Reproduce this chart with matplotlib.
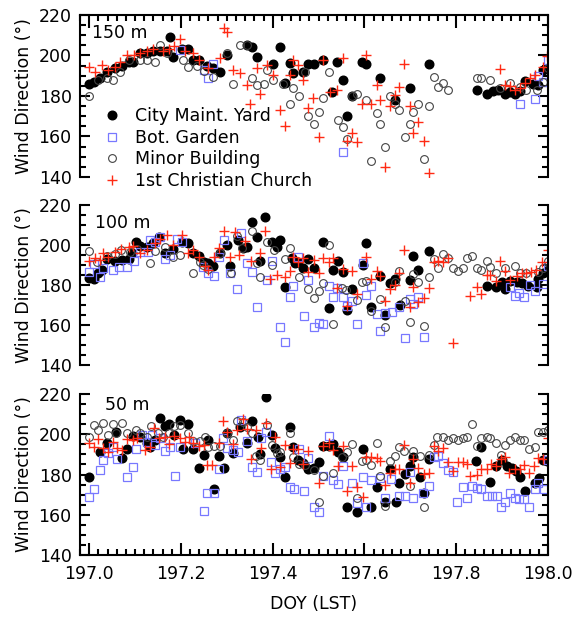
import numpy as np
import matplotlib.pyplot as plt
from matplotlib.ticker import MultipleLocator

plt.rcParams['font.family'] = 'DejaVu Sans'

# ---------------- 150 m ----------------
t150_city = [197.00, 197.01, 197.024, 197.038, 197.056, 197.071, 197.086, 197.096, 197.111, 197.125,
             197.14, 197.154, 197.169, 197.176, 197.183, 197.202, 197.216, 197.227, 197.24, 197.256,
             197.27, 197.285, 197.30, 197.343, 197.354, 197.365, 197.40, 197.416, 197.427, 197.438,
             197.445, 197.467, 197.478, 197.489, 197.51, 197.529, 197.541, 197.553, 197.561, 197.572,
             197.594, 197.603, 197.634, 197.667, 197.699, 197.741, 197.845, 197.866, 197.881, 197.892,
             197.906, 197.917, 197.928, 197.939, 197.95, 197.968, 197.979, 197.99, 198.0]
d150_city = [186, 187, 189, 192, 194, 195, 197, 197, 201, 201,
             202, 202, 202, 209, 199, 203, 203, 198, 198, 195,
             194, 192, 200, 205, 204, 199, 196, 204, 186.6, 196.5,
             191.5, 192, 196, 196, 198, 182, 196.6, 188, 170, 180,
             196.6, 196, 189, 178, 184, 196, 183, 181, 182.6, 183,
             181, 182, 181, 182.6, 187.4, 186, 185.5, 193, 193.7]

t150_bot = [197.198, 197.25, 197.26, 197.27, 197.553, 197.939, 197.972, 197.979, 197.99, 198.0]
d150_bot = [202.7, 193, 189, 196, 152.5, 176, 178.5, 190, 187, 198]

t150_minor = [197.0, 197.02, 197.038, 197.053, 197.068, 197.086, 197.111, 197.125, 197.144, 197.154,
              197.169, 197.205, 197.216, 197.235, 197.25, 197.27, 197.30, 197.314, 197.329, 197.343,
              197.354, 197.365, 197.38, 197.387, 197.40, 197.423, 197.438, 197.445, 197.458, 197.47,
              197.478, 197.489, 197.50, 197.51, 197.523, 197.543, 197.553, 197.561, 197.572, 197.584,
              197.603, 197.614, 197.627, 197.634, 197.645, 197.656, 197.667, 197.676, 197.688, 197.699,
              197.706, 197.717, 197.73, 197.741, 197.752, 197.761, 197.772, 197.783, 197.845, 197.855,
              197.873, 197.895, 197.917, 197.939, 197.953, 197.975, 197.99, 198.0]
d150_minor = [180, 188, 189, 188, 192, 198, 198, 198, 197, 205,
              201, 198, 194.5, 195, 192.5, 189.5, 201, 186, 205, 205,
              189, 185.5, 186, 193, 188, 186, 176, 184, 180, 192,
              170, 166, 172, 179, 192, 168, 164.5, 158.6, 180, 181,
              178, 148, 171.4, 166, 155, 180, 176, 173, 159.6, 166,
              172, 176, 148.7, 175, 189.5, 184.6, 186.6, 183, 188.7, 188.7,
              188, 184, 186.6, 184.3, 183, 183, 187, 193.7]

t150_church = [197.0, 197.013, 197.028, 197.042, 197.056, 197.068, 197.082, 197.097, 197.111, 197.125,
               197.14, 197.16, 197.173, 197.184, 197.198, 197.209, 197.227, 197.24, 197.26, 197.285,
               197.293, 197.30, 197.314, 197.329, 197.343, 197.35, 197.365, 197.372, 197.387, 197.40,
               197.416, 197.427, 197.438, 197.445, 197.456, 197.467, 197.478, 197.487, 197.50, 197.51,
               197.525, 197.541, 197.554, 197.561, 197.572, 197.583, 197.594, 197.603, 197.614, 197.627,
               197.634, 197.645, 197.656, 197.667, 197.676, 197.686, 197.699, 197.706, 197.717, 197.73,
               197.741, 197.895, 197.906, 197.917, 197.928, 197.939, 197.95, 197.96, 197.972, 197.99,
               197.997]
d150_church = [194.5, 192, 195.3, 193, 194.5, 197, 200, 200, 201, 202,
               203, 202, 203, 204.7, 208, 202, 201, 198, 193.7, 198.6,
               213.4, 211.8, 193, 191.5, 185.5, 176, 193.7, 181, 195.3, 190.4,
               173, 165, 190.4, 197.8, 195.3, 188, 174, 179, 159.6, 197.8,
               182, 183, 198.6, 158, 161.6, 157.5, 176, 200.4, 176, 185.5,
               178, 145, 175, 180.5, 184.3, 196, 175, 161.6, 167, 158,
               142, 193.3, 185.5, 185, 183, 183.8, 186.6, 188.7, 190.4, 194.5,
               199.5]

# ---------------- 100 m ----------------
t100_city = [197.0, 197.01, 197.02, 197.028, 197.038, 197.056, 197.071, 197.086, 197.093, 197.102,
             197.111, 197.125, 197.14, 197.153, 197.166, 197.183, 197.202, 197.216, 197.226, 197.24,
             197.25, 197.26, 197.27, 197.285, 197.30, 197.307, 197.325, 197.336, 197.343, 197.354,
             197.365, 197.372, 197.383, 197.398, 197.41, 197.416, 197.427, 197.441, 197.449, 197.456,
             197.467, 197.478, 197.489, 197.51, 197.523, 197.531, 197.542, 197.554, 197.561, 197.572,
             197.596, 197.603, 197.614, 197.634, 197.645, 197.656, 197.667, 197.677, 197.699, 197.706,
             197.717, 197.741, 197.866, 197.887, 197.899, 197.906, 197.917, 197.932, 197.943, 197.957,
             197.975, 197.979, 197.99, 198.0]
d100_city = [183.3, 182.8, 186, 187.5, 193, 192, 192.5, 193, 196, 201.7,
             199.5, 199, 201, 204, 196, 198, 201.7, 201, 196, 194.5,
             191.7, 191, 189.5, 196, 200, 189.5, 202.5, 198.3, 199, 211.3,
             204, 192, 214, 201.7, 199, 202.5, 178.8, 193.3, 191, 191.7,
             188.3, 192.8, 188.3, 201.7, 168.3, 187.5, 192.2, 186.3, 167.5, 178,
             190, 200.8, 168.8, 184.5, 165, 181, 182.8, 170, 182.5, 194.5,
             187.5, 197, 179.7, 178.8, 181.7, 178, 182, 181.7, 180.8, 179.5,
             178.8, 182.8, 185.8, 187.5]

t100_bot = [197.0, 197.01, 197.023, 197.031, 197.053, 197.064, 197.082, 197.097, 197.111, 197.129,
            197.133, 197.144, 197.155, 197.166, 197.176, 197.191, 197.202, 197.248, 197.26, 197.271,
            197.282, 197.293, 197.307, 197.323, 197.331, 197.343, 197.354, 197.365, 197.387, 197.398,
            197.416, 197.427, 197.438, 197.445, 197.456, 197.468, 197.478, 197.489, 197.50, 197.51,
            197.523, 197.531, 197.541, 197.554, 197.561, 197.572, 197.584, 197.596, 197.603, 197.614,
            197.627, 197.634, 197.645, 197.659, 197.676, 197.688, 197.699, 197.706, 197.717, 197.73,
            197.917, 197.928, 197.937, 197.948, 197.96, 197.972, 197.99, 198.0]
d100_bot = [186.7, 190.5, 183.8, 188.3, 187.5, 188.8, 189.2, 192.2, 196.7, 196.7,
            202.5, 201.7, 204.2, 192.8, 195, 203, 201.7, 188.8, 185.8, 184.5,
            193.8, 202.5, 186.2, 177.8, 206.2, 191.2, 186.7, 169.2, 182.5, 192.2,
            158.8, 151.7, 173.8, 179.7, 194.2, 164.7, 182.5, 158.8, 161.2, 160.5,
            179.7, 173.8, 178.3, 173.8, 169.5, 172.2, 160.3, 191.2, 175, 179.5,
            165.5, 157, 166.2, 166.7, 169.2, 153.7, 172.8, 170.3, 173.8, 154.2,
            178.8, 174.5, 176.2, 173.8, 180, 177.2, 180.5, 189.5]

t100_minor = [197.0, 197.017, 197.038, 197.056, 197.07, 197.09, 197.104, 197.133, 197.144, 197.166,
              197.183, 197.198, 197.227, 197.242, 197.248, 197.26, 197.285, 197.31, 197.323, 197.333,
              197.354, 197.365, 197.372, 197.387, 197.398, 197.402, 197.427, 197.438, 197.458, 197.478,
              197.489, 197.50, 197.51, 197.523, 197.531, 197.55, 197.56, 197.583, 197.594, 197.603,
              197.614, 197.634, 197.645, 197.667, 197.676, 197.688, 197.699, 197.706, 197.717, 197.73,
              197.741, 197.752, 197.761, 197.772, 197.783, 197.793, 197.804, 197.814, 197.824, 197.834,
              197.845, 197.855, 197.866, 197.874, 197.887, 197.906, 197.928, 197.939, 197.953, 197.979,
              197.99, 198.0]
d100_minor = [197, 191.7, 194.5, 195.5, 197.5, 196.7, 198, 191, 197, 199,
              194, 195, 185.8, 191.7, 190, 188, 196, 186, 204.5, 198.3,
              207, 191, 184, 201.7, 190, 197.5, 192.8, 198.3, 183.8, 177.8,
              173.7, 177, 180.8, 200, 160.3, 178.3, 177.5, 172.5, 181.7, 182,
              167, 172.8, 158.8, 181.7, 187, 172, 161.3, 185.3, 181.7, 159.5,
              184.2, 192.8, 188.3, 195.5, 193.3, 188.3, 187, 188.3, 193.3, 194.5,
              188.3, 187.5, 192.2, 189.2, 185.8, 188.3, 189.5, 185.8, 185.8, 186.7,
              188.3, 192.2]

t100_church = [197.0, 197.013, 197.024, 197.031, 197.042, 197.056, 197.07, 197.086, 197.096, 197.111,
               197.125, 197.144, 197.155, 197.169, 197.183, 197.202, 197.216, 197.227, 197.24, 197.253,
               197.26, 197.271, 197.282, 197.293, 197.307, 197.318, 197.327, 197.34, 197.352, 197.372,
               197.383, 197.394, 197.41, 197.427, 197.438, 197.445, 197.456, 197.467, 197.478, 197.489,
               197.50, 197.51, 197.523, 197.531, 197.541, 197.554, 197.561, 197.572, 197.584, 197.603,
               197.614, 197.627, 197.634, 197.645, 197.656, 197.667, 197.676, 197.686, 197.699, 197.706,
               197.717, 197.73, 197.741, 197.752, 197.761, 197.772, 197.783, 197.793, 197.831, 197.845,
               197.855, 197.866, 197.874, 197.887, 197.895, 197.906, 197.917, 197.932, 197.943, 197.953,
               197.964, 197.974, 197.986, 198.0]
d100_church = [192.2, 193.3, 192.5, 196.2, 194.2, 196.7, 197.8, 199.2, 199.5, 195.8,
               197.5, 201.2, 202.8, 205, 200, 205, 196.2, 197.5, 194.2, 189.5,
               187.5, 194.2, 198.3, 207.2, 194.2, 206.3, 195, 202.2, 192.2, 195.8,
               207.2, 182.8, 185, 184.2, 187, 194.2, 191.7, 193.3, 186.7, 192.5,
               186.2, 193.3, 191.7, 193.3, 178.3, 187.8, 169.5, 187, 175.3, 194.2,
               182.8, 187.2, 184.5, 172.2, 178, 180, 185.8, 197.5, 168.8, 179.2,
               171.7, 173.3, 178.3, 191.7, 192.2, 191.7, 193.3, 150.8, 174.5, 179.2,
               175.5, 185, 185, 182.2, 192.2, 187, 182.5, 184.5, 185.8, 185.8,
               186.7, 187.5, 191.7, 197.5]

# ---------------- 50 m ----------------
t50_city = [197.0, 197.023, 197.038, 197.059, 197.071, 197.082, 197.096, 197.111, 197.125, 197.133,
            197.144, 197.155, 197.166, 197.175, 197.184, 197.198, 197.204, 197.216, 197.227, 197.24,
            197.25, 197.26, 197.271, 197.282, 197.294, 197.30, 197.313, 197.328, 197.343, 197.354,
            197.367, 197.373, 197.386, 197.398, 197.405, 197.416, 197.427, 197.438, 197.445, 197.456,
            197.467, 197.478, 197.489, 197.50, 197.51, 197.523, 197.532, 197.543, 197.553, 197.561,
            197.584, 197.596, 197.614, 197.627, 197.645, 197.656, 197.669, 197.676, 197.688, 197.699,
            197.706, 197.72, 197.73, 197.741, 197.844, 197.855, 197.873, 197.887, 197.899, 197.91,
            197.921, 197.93, 197.94, 197.95, 197.972, 197.981, 197.99, 197.997]
d50_city = [179, 191.4, 195.5, 201.3, 188, 192.7, 199.2, 198.8, 195.8, 193.5,
            197.2, 208, 204.1, 205, 199.7, 207, 192.5, 205, 192.7, 183,
            189.7, 197.2, 172.8, 189.2, 183, 200.5, 190.8, 203.4, 195.8, 206.8,
            198.8, 190.2, 218.7, 199.7, 193, 188.5, 179, 203.4, 193.5, 187.2,
            185.6, 182.6, 183, 186.4, 194.2, 194.2, 195.2, 191.4, 188.5, 164,
            161.6, 192.7, 164, 173.6, 166.5, 182.6, 166.5, 176, 180.3, 184.2,
            188.5, 178.6, 171, 187.6, 186.9, 193.5, 176.5, 184, 187.2, 184.2,
            183, 181.9, 178.6, 172, 176, 178.1, 187.2, 186.9]

t50_bot = [197.0, 197.01, 197.023, 197.031, 197.042, 197.053, 197.06, 197.082, 197.095, 197.102,
           197.115, 197.125, 197.136, 197.144, 197.155, 197.166, 197.176, 197.187, 197.198, 197.23,
           197.25, 197.257, 197.271, 197.282, 197.291, 197.301, 197.313, 197.325, 197.331, 197.343,
           197.354, 197.365, 197.374, 197.386, 197.396, 197.405, 197.416, 197.427, 197.438, 197.447,
           197.458, 197.468, 197.478, 197.489, 197.50, 197.51, 197.523, 197.531, 197.543, 197.554,
           197.572, 197.584, 197.596, 197.603, 197.614, 197.634, 197.645, 197.657, 197.676, 197.688,
           197.699, 197.706, 197.728, 197.741, 197.752, 197.761, 197.772, 197.783, 197.793, 197.802,
           197.814, 197.824, 197.834, 197.845, 197.855, 197.866, 197.877, 197.888, 197.897, 197.906,
           197.917, 197.928, 197.937, 197.948, 197.959, 197.972, 197.979, 197.991, 198.0]
d50_bot = [169, 172.6, 182.3, 187.2, 190.9, 193.5, 187.6, 178.9, 183.9, 192.7,
           199.7, 196.3, 199.7, 194.7, 198, 191.9, 193.5, 179.3, 193.5, 195.5,
           162, 171, 171, 182.6, 198.3, 193, 192.2, 191.4, 207.1, 196.8,
           183.9, 181.4, 198, 201.3, 186.4, 180.9, 182.6, 183.9, 173.6, 172.6,
           192.5, 172, 188, 164, 161.6, 179.3, 199.2, 177.3, 175.3, 184.2,
           175.6, 166, 178.6, 164, 177.3, 178.1, 168.2, 177.6, 169.3, 169.3,
           181.4, 168.2, 171, 174.3, 188.5, 189.2, 185.9, 182.3, 181.4, 166.5,
           173.6, 168.2, 174.3, 173.2, 172.6, 169.3, 169.3, 169.3, 164, 166.5,
           171, 168.2, 167.7, 167.7, 164, 172.6, 175.6, 172.6, 187.2]

t50_minor = [197.0, 197.01, 197.02, 197.03, 197.04, 197.053, 197.059, 197.071, 197.082, 197.102,
             197.111, 197.125, 197.134, 197.15, 197.16, 197.175, 197.184, 197.198, 197.216, 197.227,
             197.242, 197.253, 197.26, 197.271, 197.285, 197.30, 197.313, 197.322, 197.335, 197.343,
             197.354, 197.364, 197.372, 197.387, 197.398, 197.41, 197.416, 197.438, 197.445, 197.458,
             197.47, 197.489, 197.50, 197.51, 197.531, 197.55, 197.561, 197.572, 197.584, 197.594,
             197.603, 197.614, 197.627, 197.634, 197.645, 197.656, 197.667, 197.676, 197.686, 197.699,
             197.706, 197.72, 197.73, 197.741, 197.752, 197.759, 197.772, 197.783, 197.793, 197.804,
             197.814, 197.824, 197.834, 197.845, 197.855, 197.866, 197.874, 197.887, 197.897, 197.906,
             197.917, 197.928, 197.939, 197.948, 197.959, 197.972, 197.979, 197.99, 198.0]
d50_minor = [198.8, 204.6, 202.1, 205.8, 199.7, 205, 200.5, 205.4, 200.8, 202.1,
             200.5, 198.8, 204.1, 200.5, 198.8, 200.8, 204.1, 204.6, 200.8, 196.8,
             196.8, 198.8, 193.5, 194.2, 194.2, 200.5, 197.2, 206.8, 206.3, 203.8,
             200.8, 189.2, 187.2, 204.6, 194.7, 190.5, 191.4, 200.5, 188.5, 185.2,
             184.7, 182.3, 166.5, 179.3, 180.6, 188.5, 191.4, 195.2, 168.2, 186.9,
             187.2, 184.7, 195.5, 179.3, 164.4, 186.9, 189.2, 193.5, 191.9, 174.3,
             191.9, 189.2, 164, 189.7, 194.7, 198.8, 198.8, 197.2, 198, 197.2,
             198, 198.8, 205.1, 194.2, 198, 198.8, 198, 195.5, 189.7, 194.7,
             197.2, 198.8, 197.2, 197.2, 192.5, 193.5, 201.3, 201.3, 202.1]

t50_church = [197.0, 197.01, 197.02, 197.031, 197.042, 197.052, 197.06, 197.071, 197.082, 197.095,
              197.104, 197.122, 197.133, 197.142, 197.153, 197.166, 197.175, 197.184, 197.198, 197.209,
              197.218, 197.227, 197.24, 197.25, 197.257, 197.267, 197.282, 197.291, 197.301, 197.313,
              197.323, 197.336, 197.345, 197.352, 197.364, 197.374, 197.386, 197.396, 197.405, 197.416,
              197.427, 197.438, 197.445, 197.456, 197.467, 197.478, 197.50, 197.51, 197.523, 197.531,
              197.543, 197.553, 197.561, 197.572, 197.583, 197.596, 197.603, 197.614, 197.627, 197.634,
              197.645, 197.656, 197.667, 197.676, 197.686, 197.699, 197.706, 197.717, 197.73, 197.741,
              197.752, 197.761, 197.772, 197.783, 197.793, 197.804, 197.814, 197.824, 197.831, 197.845,
              197.855, 197.866, 197.875, 197.887, 197.897, 197.906, 197.916, 197.928, 197.939, 197.948,
              197.959, 197.969, 197.979, 197.99, 198.0]
d50_church = [195.8, 193.5, 197.5, 193, 191.4, 196.3, 193, 192.2, 197.5, 197.2,
              198, 192.2, 193.8, 202.9, 198, 198.5, 195.2, 199.2, 198, 196.3,
              198.8, 195.8, 194.2, 194.7, 184.7, 184.7, 195.8, 206.8, 201.3, 195.2,
              202.1, 207.4, 202.5, 187.6, 202.1, 193, 205.8, 182.6, 198.5, 183.9,
              194.7, 185.9, 192.5, 192.5, 185.2, 191.9, 175.6, 194.2, 195.5, 192.2,
              184.2, 194.2, 172, 184.2, 173.6, 168.7, 188.5, 188.5, 188, 186.9,
              174.8, 180.6, 182.6, 182.6, 194.7, 176, 187.6, 183, 180.3, 180.9,
              194.2, 191.9, 193, 186.4, 181.9, 186.4, 186.4, 185.2, 179.3, 179.8,
              182.6, 182.6, 185.2, 184, 187.6, 188.5, 180.6, 182.6, 182.6, 184.7,
              180.6, 184.2, 188, 187.6, 198]

panels = [
    ('150 m', (t150_city, d150_city), (t150_bot, d150_bot), (t150_minor, d150_minor), (t150_church, d150_church)),
    ('100 m', (t100_city, d100_city), (t100_bot, d100_bot), (t100_minor, d100_minor), (t100_church, d100_church)),
    ('50 m', (t50_city, d50_city), (t50_bot, d50_bot), (t50_minor, d50_minor), (t50_church, d50_church)),
]
label_pos = [(0.026, 0.889), (0.032, 0.8875), (0.053, 0.93)]

fig = plt.figure(figsize=(5.78, 6.28), dpi=100)
boxes = [[0.1384, 0.7182, 0.8097, 0.258],
         [0.1384, 0.4188, 0.8097, 0.2548],
         [0.1384, 0.1162, 0.8097, 0.2564]]

for i, (name, city, bot, minor, church) in enumerate(panels):
    ax = fig.add_axes(boxes[i])
    ax.plot(city[0], city[1], 'o', ms=6.2, color='black', mec='black', label='City Maint. Yard')
    ax.plot(bot[0], bot[1], 's', ms=5.6, mfc='none', mec='#7878ff', mew=0.9, label='Bot. Garden')
    ax.plot(minor[0], minor[1], 'o', ms=5.6, mfc='none', mec='#444444', mew=0.8, label='Minor Building')
    ax.plot(church[0], church[1], '+', ms=7, color='#ff2a14', mew=1.0, label='1st Christian Church')

    ax.set_xlim(196.98, 198.0)
    ax.set_ylim(140, 220)
    ax.yaxis.set_major_locator(MultipleLocator(20))
    ax.yaxis.set_minor_locator(MultipleLocator(5))
    ax.xaxis.set_major_locator(MultipleLocator(0.2))
    ax.xaxis.set_minor_locator(MultipleLocator(0.02))
    for s in ax.spines.values():
        s.set_linewidth(1.5)
    ax.tick_params(axis='y', which='both', direction='in', left=True, right=True, labelsize=12.5, pad=6, width=1.5)
    ax.tick_params(axis='y', which='major', length=7)
    ax.tick_params(axis='y', which='minor', length=4)
    ax.tick_params(axis='x', which='both', direction='in', width=1.5, labelsize=12.5, pad=7)
    ax.tick_params(axis='x', which='major', length=9)
    ax.tick_params(axis='x', which='minor', length=4.5)
    ax.set_ylabel('Wind Direction (°)', fontsize=12.5)
    ax.text(label_pos[i][0], label_pos[i][1], name, transform=ax.transAxes, fontsize=12.5, va='center')

    if i == 0:
        ax.spines['bottom'].set_visible(False)
        ax.tick_params(axis='x', which='both', top=True, bottom=False, labelbottom=False)
        ax.legend(loc='upper left', bbox_to_anchor=(0.05, 0.43), frameon=False, fontsize=12.5,
                  handlelength=1.0, handletextpad=0.8, labelspacing=0.2, borderpad=0, borderaxespad=0)
    elif i == 1:
        ax.spines['bottom'].set_visible(False)
        ax.spines['top'].set_visible(False)
        ax.tick_params(axis='x', which='both', top=False, bottom=False, labelbottom=False)
    else:
        ax.spines['top'].set_visible(False)
        ax.tick_params(axis='x', which='both', top=False, bottom=True)
        ax.set_xticklabels(['%.1f' % v for v in ax.get_xticks()])
        ax.set_xlabel('DOY (LST)', fontsize=12.5, labelpad=9)

fig.savefig('out.png', dpi=100)
